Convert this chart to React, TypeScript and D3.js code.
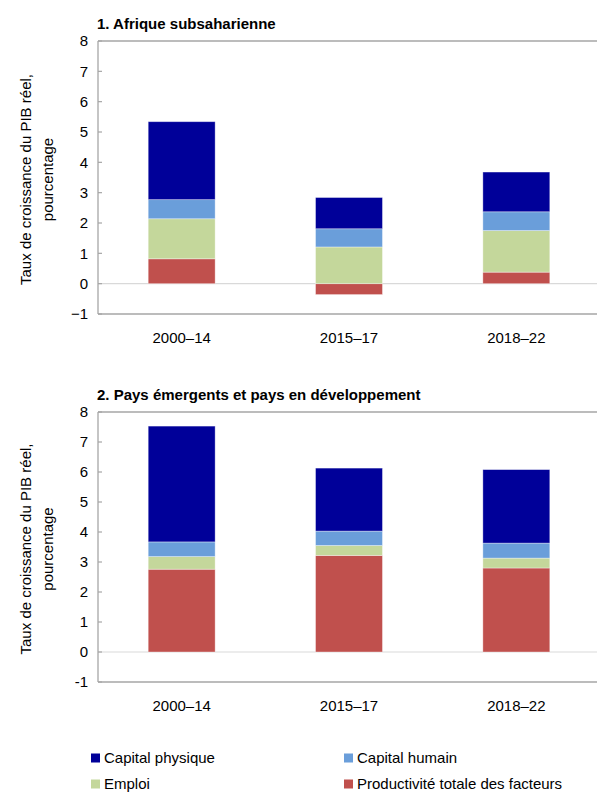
import React from "react";
import * as d3 from "d3";

// periods and contributions (percentage points)
const periods = ["2000–14", "2015–17", "2018–22"];
const seriesKeys = ["tfp", "emploi", "humain", "physique"];
const seriesLabels = ["Productivité totale des facteurs", "Emploi", "Capital humain", "Capital physique"];
const seriesColors = ["#C0504D", "#C4D79B", "#6A9EDA", "#000099"];

const ssaTfp = [0.82, -0.36, 0.38];
const ssaEmploi = [1.32, 1.21, 1.37];
const ssaHumain = [0.63, 0.6, 0.62];
const ssaPhysique = [2.57, 1.03, 1.31];

const emdeTfp = [2.76, 3.22, 2.8];
const emdeEmploi = [0.42, 0.33, 0.33];
const emdeHumain = [0.49, 0.48, 0.5];
const emdePhysique = [3.86, 2.1, 2.45];

const yTickValues = [-1, 0, 1, 2, 3, 4, 5, 6, 7, 8];
const yTickLabelsTop = ["−1", "0", "1", "2", "3", "4", "5", "6", "7", "8"];
const yTickLabelsBottom = ["-1", "0", "1", "2", "3", "4", "5", "6", "7", "8"];

const width = 597,
    height = 793;
const font = "'Liberation Sans', Arial, sans-serif";
const fs = 15;

const buildRows = (tfp: number[], emploi: number[], humain: number[], physique: number[]) =>
    periods.map((p, i) => ({period: p, tfp: tfp[i], emploi: emploi[i], humain: humain[i], physique: physique[i]}));

type PanelProps = {
    title: string;
    rows: any[];
    top: number;
    bottom: number;
    tickLabels: string[];
};

const Panel = ({title, rows, top, bottom, tickLabels}: PanelProps) => {
    const left = 98,
        right = 600;
    const x = d3.scaleBand().domain(periods).range([left, right]).paddingInner(0.6).paddingOuter(0.3);
    const y = d3.scaleLinear().domain([-1, 8]).range([bottom, top]);
    const stacked = d3.stack().keys(seriesKeys).offset(d3.stackOffsetDiverging)(rows);
    const midY = (top + bottom) / 2;
    return (
        <g>
            <text x={97} y={top - 12.5} fontSize={fs} fontWeight="bold" fill="#000">{title}</text>
            <g transform={`translate(36,${midY + 2}) rotate(-90)`} fontSize={fs} textAnchor="middle" fill="#000">
                <text x={0} y={-5.5}>Taux de croissance du PIB réel,</text>
                <text x={0} y={16.5}>pourcentage</text>
            </g>
            <line x1={left} x2={right} y1={y(0)} y2={y(0)} stroke="#d9d9d9" strokeWidth={1.2} />
            {stacked.map((s, si) => (
                <g key={seriesKeys[si]} fill={seriesColors[si]}>
                    {s.map((d: any) => (
                        <rect
                            key={d.data.period}
                            x={x(d.data.period)}
                            width={x.bandwidth()}
                            y={y(Math.max(d[0], d[1]))}
                            height={Math.abs(y(d[0]) - y(d[1]))}
                            stroke="#ffffff"
                            strokeOpacity={0.45}
                            strokeWidth={0.8}
                        />
                    ))}
                </g>
            ))}
            <line x1={left} x2={right} y1={top} y2={top} stroke="#a6a6a6" strokeWidth={1.3} />
            <line x1={left} x2={right} y1={bottom} y2={bottom} stroke="#a6a6a6" strokeWidth={1.3} />
            <line x1={left} x2={left} y1={top} y2={bottom} stroke="#a6a6a6" strokeWidth={1.3} />
            {yTickValues.map((v, i) => (
                <g key={v}>
                    <line x1={left} x2={left + 4} y1={y(v)} y2={y(v)} stroke="#a6a6a6" strokeWidth={1.2} />
                    <text x={88} y={y(v)} dy="0.35em" fontSize={fs} textAnchor="end" fill="#000">
                        {tickLabels[i]}
                    </text>
                </g>
            ))}
            {periods.map((p) => (
                <text key={p} x={x(p)! + x.bandwidth() / 2} y={bottom + 28.5} fontSize={fs} textAnchor="middle" fill="#000">
                    {p}
                </text>
            ))}
        </g>
    );
};

const legendOrder = [3, 2, 1, 0];

const App = () => {
    const ssaRows = buildRows(ssaTfp, ssaEmploi, ssaHumain, ssaPhysique);
    const emdeRows = buildRows(emdeTfp, emdeEmploi, emdeHumain, emdePhysique);
    return (
        <svg width={width} height={height} style={{position: "absolute", left: 0, top: 0, fontFamily: font}}>
            <rect width={width} height={height} fill="#fff" />
            <Panel title="1. Afrique subsaharienne" rows={ssaRows} top={41} bottom={314} tickLabels={yTickLabelsTop} />
            <Panel
                title="2. Pays émergents et pays en développement"
                rows={emdeRows}
                top={412}
                bottom={682}
                tickLabels={yTickLabelsBottom}
            />
            {legendOrder.map((si, i) => {
                const lx = i % 2 === 0 ? 91 : 344;
                const ly = i < 2 ? 758 : 784;
                return (
                    <g key={seriesKeys[si]}>
                        <rect x={lx} y={ly - 4.5} width={9} height={9} fill={seriesColors[si]} />
                        <text x={lx + 13} y={ly} dy="0.35em" fontSize={fs} fill="#000">{seriesLabels[si]}</text>
                    </g>
                );
            })}
        </svg>
    );
};

export default App;
